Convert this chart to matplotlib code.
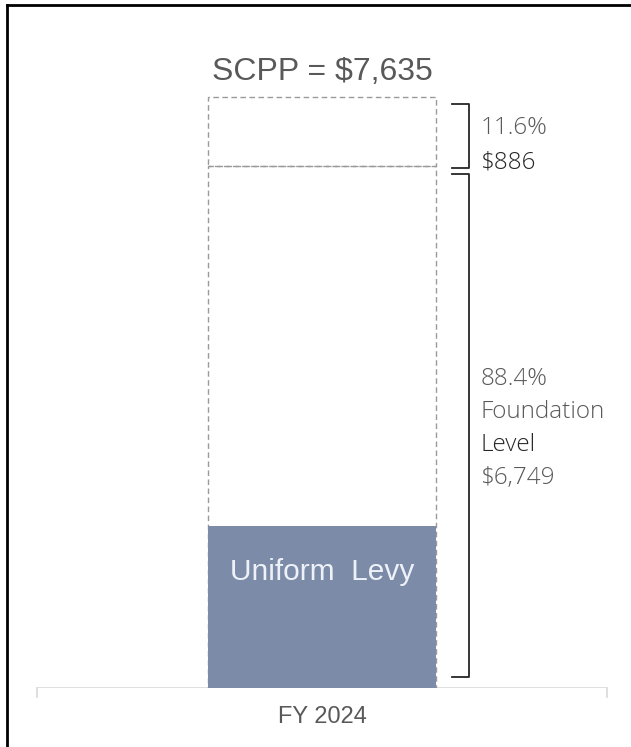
import matplotlib
matplotlib.use('Agg')
import matplotlib.pyplot as plt
from matplotlib.lines import Line2D

# Data
category = "FY 2024"
scpp_total = 7635
foundation_level = 6749
above_foundation = scpp_total - foundation_level  # 886
uniform_levy = 2093
pct_above = 11.6
pct_foundation = 88.4

W, H = 631, 747
fig = plt.figure(figsize=(W / 100, H / 100), dpi=100)

# axes: x 37..607 px, y bottom at 688 px
px_per_dollar = (688 - 97) / scpp_total
ax_top = 40
ax = fig.add_axes([37 / W, (H - 688) / H, 570 / W, (688 - ax_top) / H])
ax.set_xlim(-0.5, 0.5)
ax.set_ylim(0, (688 - ax_top) / px_per_dollar)

bar_w = 0.4
dash_col = '#9a9a9a'
ax.bar(0, uniform_levy, width=bar_w, color='#7b8ba8', zorder=2)
ax.bar(0, foundation_level, width=bar_w, facecolor='none', edgecolor=dash_col,
       linestyle=(0, (4, 2.5)), linewidth=1.0, zorder=1)
ax.bar(0, above_foundation, bottom=foundation_level, width=bar_w, facecolor='none',
       edgecolor=dash_col, linestyle=(0, (4, 2.5)), linewidth=1.0, zorder=1)

for s in ax.spines.values():
    s.set_visible(False)
ax.set_yticks([])
ax.set_xticks([0])
ax.set_xticklabels([category], fontsize=17, color='#595959', family='Liberation Sans')
ax.tick_params(axis='x', length=0, pad=13)
ax.axhline(0, color='#d9d9d9', linewidth=1.2, zorder=0)
# end ticks on baseline
for xe in (-0.5, 0.5):
    ax.plot([xe, xe], [0, -110], color='#d9d9d9', linewidth=1.2, clip_on=False)

# title above bar
ax.text(0, scpp_total + 130, f"SCPP = ${scpp_total:,}", ha='center', va='bottom',
        fontsize=23, color='#595959', family='Liberation Sans')
ax.text(0, uniform_levy - 600, "Uniform  Levy", ha='center', va='center',
        fontsize=21.5, color='#eef2f8', family='Liberation Sans', zorder=3)

# brackets
bx = (468 - 321.5) / 570
bl = (451 - 321.5) / 570
br_col = '#262626'

def bracket(y0, y1):
    ax.plot([bl, bx, bx, bl], [y1, y1, y0, y0], color=br_col, linewidth=1.3,
            solid_joinstyle='round')

bracket(foundation_level - 30, scpp_total - 90)
bracket(140, foundation_level - 115)

tx = (480 - 321.5) / 570
light = dict(fontsize=17.5, color='#595959', family=['Open Sans', 'DejaVu Sans'],
             fontweight='light', ha='left', va='center')
dark = dict(light, color='#262626')

def ypix(p):
    return (688 - p) / px_per_dollar

ax.text(tx, ypix(128), f"{pct_above}%", **light)
ax.text(tx, ypix(162), f"${above_foundation:,}", **dark)
ax.text(tx, ypix(379), f"{pct_foundation}%", **light)
ax.text(tx, ypix(412), "Foundation", **light)
ax.text(tx, ypix(445), "Level", **dark)
ax.text(tx, ypix(478), f"${foundation_level:,}", **light)

# frame (left and top edges visible)
fig.add_artist(Line2D([6.5 / W, 6.5 / W], [0, 1 - 4.5 / H], color='black', linewidth=2))
fig.add_artist(Line2D([6.5 / W, 1], [1 - 4.5 / H, 1 - 4.5 / H], color='black', linewidth=2))

fig.savefig('out.png', dpi=100)
